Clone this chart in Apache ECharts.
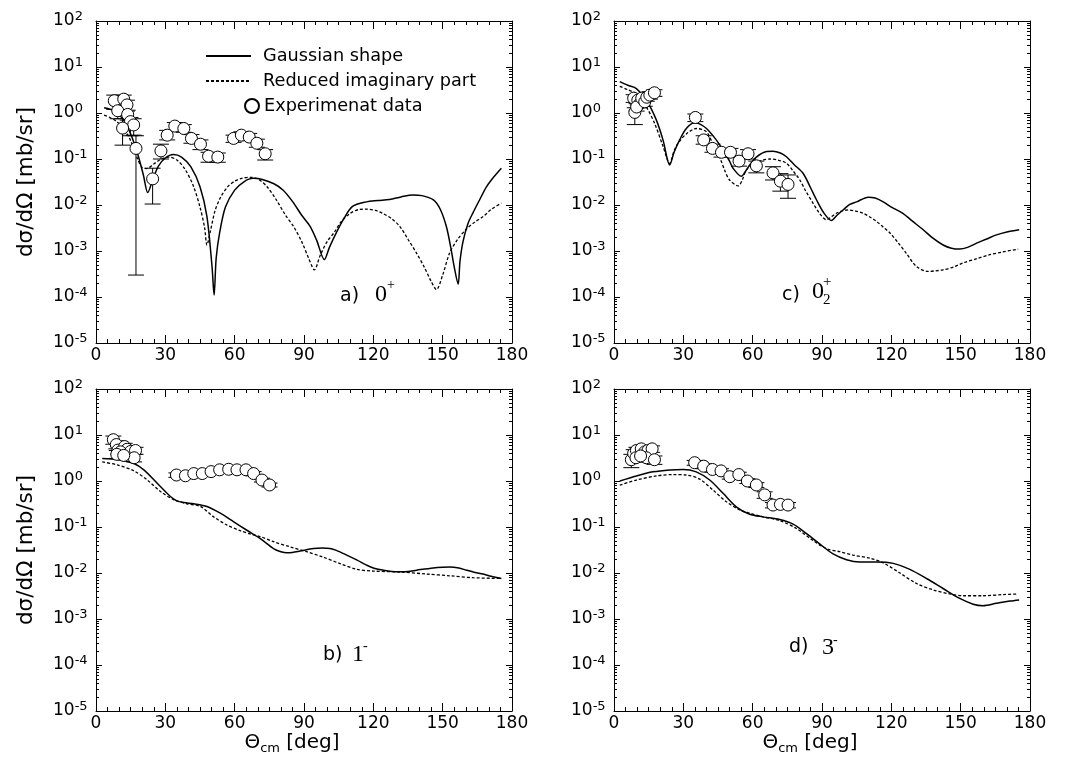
<!DOCTYPE html>
<html><head><meta charset="utf-8">
<script src="https://cdn.jsdelivr.net/npm/echarts@6.0.0/dist/echarts.min.js"></script>
<style>html,body{margin:0;padding:0;background:#fff}#c{width:1072px;height:773px}</style>
</head><body><div id="c"></div>
<script>
// ---------- data (angle deg, dσ/dΩ mb/sr) ----------
const gaussA = [[3.5,1.3],[8,1.1],[12,0.7],[15,0.35],[18,0.13],[20.5,0.045],[22.4,0.0186],[24.5,0.035],[27,0.07],[30,0.105],[33.5,0.125],[37,0.11],[41,0.068],[45,0.025],[48,0.0056],[50.2,0.00046],[51.1,0.00011],[52,0.0007],[53.5,0.0025],[56,0.009],[60,0.021],[64,0.032],[68,0.038],[72,0.036],[77,0.029],[81,0.021],[85,0.012],[89,0.006],[92.7,0.0034],[95.5,0.0017],[98.8,0.00065],[101,0.0012],[104,0.0025],[107,0.0048],[111,0.0093],[117,0.0117],[122,0.0125],[127,0.0132],[132,0.015],[137,0.0165],[141,0.016],[146,0.0129],[149,0.008],[151.6,0.0034],[153.5,0.0012],[155,0.00045],[156.7,0.00019],[157.5,0.0006],[158.8,0.0016],[161,0.004],[163,0.0066],[166,0.013],[169,0.025],[172,0.04],[175.4,0.063]];
const reducedA = [[3.5,0.9],[6,0.8],[9,0.65],[12,0.45],[15,0.25],[18,0.1],[20,0.065],[22,0.062],[25,0.078],[28,0.098],[31.5,0.11],[35,0.095],[38.5,0.06],[42,0.027],[45,0.009],[47,0.0032],[48,0.00135],[49.5,0.0027],[51.5,0.0075],[54,0.015],[57,0.025],[60,0.033],[63,0.038],[66.8,0.04],[70,0.037],[74,0.025],[78,0.013],[82,0.006],[85.5,0.0034],[89,0.0016],[92,0.0007],[94.5,0.00039],[97,0.0008],[100,0.0016],[103,0.0025],[106,0.0043],[110,0.0066],[114,0.008],[117,0.0081],[121,0.0076],[124,0.0066],[128,0.005],[131.5,0.0034],[135,0.0018],[138.7,0.0009],[142,0.00045],[145,0.00022],[147.3,0.000145],[150,0.0003],[153,0.0009],[156.5,0.0018],[160,0.0029],[164,0.0043],[167.5,0.0056],[171,0.008],[175.4,0.011]];
// [angle, value, errLow, errHigh]
const expA = [[7.9,1.85,1.2,2.45],[12.0,2.0,1.4,2.45],[13.4,1.5,1.1,1.9],[9.4,1.12,0.75,1.5],[13.7,0.93,0.7,1.15],[14.9,0.65,0.32,0.8],[16.3,0.55,0.33,0.75],[11.5,0.47,0.2,0.75],[17.3,0.17,0.0003,0.32],[24.5,0.037,0.0105,0.063],[28.1,0.15,0.1,0.21],[30.8,0.33,0.26,0.42],[34.1,0.52,0.42,0.62],[38.0,0.46,0.38,0.56],[41.3,0.28,0.22,0.34],[45.2,0.21,0.16,0.26],[48.7,0.115,0.085,0.14],[52.7,0.11,0.085,0.135],[59.5,0.28,0.23,0.33],[62.9,0.33,0.27,0.39],[66.3,0.3,0.25,0.36],[69.6,0.22,0.18,0.27],[73.2,0.13,0.095,0.16]];

const gaussC = [[2.5,4.8],[6,4.0],[9.7,3.4],[14,1.9],[18.3,0.71],[21.2,0.26],[24.1,0.074],[26,0.14],[28.4,0.26],[31.3,0.46],[34.9,0.61],[37,0.58],[40,0.46],[44,0.27],[47.2,0.155],[50,0.09],[51.5,0.063],[55.1,0.042],[57,0.055],[58.7,0.074],[61.6,0.11],[66,0.145],[68.8,0.148],[72,0.135],[74.6,0.112],[78,0.075],[81.8,0.049],[85,0.024],[87.6,0.013],[91,0.0065],[94.1,0.0046],[96.5,0.006],[99.1,0.0078],[102,0.0103],[105,0.0117],[110,0.0148],[113,0.0142],[116.5,0.0117],[120,0.009],[125,0.0066],[129,0.0045],[133.8,0.0029],[138,0.0019],[142.4,0.00135],[146,0.00115],[149.6,0.0011],[153,0.0012],[156.9,0.00148],[161,0.0018],[165.5,0.00224],[170,0.0026],[175.3,0.0029]];
const reducedC = [[2.5,3.8],[6,3.2],[9.7,2.6],[14,1.35],[17.6,0.59],[21.2,0.19],[24.1,0.08],[26,0.15],[27.7,0.22],[31.3,0.35],[35.6,0.46],[40,0.39],[43,0.2],[45.7,0.11],[48,0.055],[50,0.035],[53.7,0.026],[55.5,0.035],[57.3,0.058],[61.6,0.081],[64.5,0.095],[67.4,0.1],[71,0.095],[74.6,0.081],[77.5,0.055],[80.4,0.035],[83,0.02],[86.1,0.011],[89,0.0065],[91.9,0.0048],[94,0.0055],[96.2,0.0066],[98.5,0.0074],[101.3,0.0078],[104.5,0.0074],[107.8,0.0066],[110.7,0.0055],[113.6,0.0044],[116.5,0.0033],[119.3,0.0025],[123,0.0015],[126.5,0.00089],[130.9,0.00046],[135.9,0.00036],[139,0.00037],[142.4,0.00039],[147,0.00045],[151,0.00055],[157,0.00068],[162.6,0.00083],[168,0.00095],[174.9,0.0011]];
const expC = [[9.0,1.03,0.56,1.3],[8.5,2.1,1.7,2.5],[10.3,1.9,1.5,2.3],[11.2,1.6,1.3,1.9],[9.8,1.35,1.1,1.6],[12.0,2.1,1.7,2.5],[13.3,1.75,1.4,2.1],[14.2,2.2,1.8,2.6],[15.5,2.45,2.0,2.9],[17.5,2.75,2.3,3.2],[35.2,0.8,0.65,0.95],[38.8,0.26,0.21,0.32],[42.6,0.17,0.14,0.21],[46.5,0.14,0.11,0.17],[50.4,0.14,0.11,0.17],[54.1,0.09,0.07,0.115],[58.0,0.13,0.1,0.16],[61.6,0.071,0.05,0.09],[68.8,0.05,0.035,0.068],[72.0,0.033,0.02,0.048],[75.3,0.028,0.014,0.045]];

const gaussB = [[2.7,3.1],[9.2,2.95],[16.4,2.4],[20.7,1.74],[26.5,0.89],[32.2,0.46],[35,0.37],[38,0.34],[42.3,0.32],[48,0.28],[53.8,0.2],[59.6,0.13],[65.3,0.085],[71.1,0.056],[76.8,0.034],[80,0.029],[82.6,0.0275],[85,0.028],[88.3,0.03],[94.1,0.034],[98,0.035],[101.3,0.034],[104,0.031],[108.5,0.0245],[113,0.019],[117.1,0.0148],[120,0.0128],[124.3,0.0115],[128,0.0108],[131.5,0.0107],[135,0.0108],[138.7,0.0115],[145.9,0.0129],[150,0.0134],[153.1,0.0135],[157,0.0128],[160.3,0.0115],[164,0.0103],[167.5,0.0095],[171,0.0085],[175.4,0.0076]];
const reducedB = [[2.7,2.6],[9.2,2.24],[16.4,1.66],[22.2,1.05],[27.9,0.59],[33.7,0.39],[39.4,0.32],[45.2,0.28],[50.9,0.166],[56.7,0.11],[62.4,0.083],[67,0.07],[71.1,0.062],[76.8,0.048],[84,0.037],[91.2,0.029],[98.4,0.022],[105.6,0.016],[112.8,0.012],[120,0.011],[131.5,0.0105],[143,0.0095],[153.1,0.0087],[163.2,0.0079],[175.4,0.0076]];
const expB = [[7.5,7.9,6.3,9.5],[8.8,6.2,5.0,7.5],[9.5,4.7,3.8,5.6],[12.4,5.6,4.6,6.6],[13.5,4.9,4.0,5.8],[10.6,4.3,3.4,5.2],[15.0,4.4,3.6,5.2],[17.1,4.6,3.8,5.4],[9.0,3.8,3.1,4.6],[16.5,3.2,2.6,3.8],[12.0,3.6,3.0,4.3],[34.8,1.35,1.2,1.5],[38.7,1.3,1.15,1.45],[42.3,1.45,1.3,1.6],[46.0,1.45,1.3,1.6],[49.8,1.6,1.45,1.75],[53.5,1.75,1.6,1.9],[57.4,1.8,1.65,1.95],[61.0,1.75,1.6,1.9],[64.9,1.75,1.6,1.9],[68.2,1.45,1.3,1.6],[71.8,1.05,0.95,1.15],[75.1,0.82,0.74,0.9]];

const gaussD = [[2.5,1.0],[9.7,1.29],[16.9,1.58],[24.1,1.74],[29.9,1.78],[35.6,1.58],[41.4,1.05],[47.2,0.54],[52.9,0.275],[58.7,0.19],[64.5,0.166],[71.7,0.145],[77.5,0.115],[83.3,0.072],[89,0.043],[94.8,0.026],[100.6,0.0195],[106.3,0.0174],[113.5,0.0174],[120.8,0.0162],[128,0.012],[135.2,0.0076],[142.4,0.0046],[149.6,0.0028],[155.4,0.0021],[159.7,0.00195],[165.5,0.0022],[171.3,0.00245],[175.3,0.0026]];
const reducedD = [[2.5,0.81],[9.7,1.05],[18.3,1.29],[25.5,1.38],[31.3,1.35],[37.1,1.1],[42.9,0.63],[48.6,0.355],[54.4,0.234],[58.7,0.2],[64.5,0.166],[71.7,0.138],[78.9,0.093],[86.1,0.051],[91.9,0.034],[97.7,0.029],[103.5,0.0245],[110.7,0.021],[116.5,0.0166],[123.7,0.01],[130.9,0.0059],[138.1,0.0043],[145.3,0.0035],[151.1,0.0032],[159.7,0.0032],[168.4,0.0034],[174.9,0.0035]];
const expD = [[7.5,2.9,1.95,3.8],[8.5,4.0,3.2,4.8],[9.7,4.6,3.8,5.4],[11.8,5.0,4.2,5.8],[13.3,4.3,3.6,5.0],[14.7,4.6,3.8,5.4],[16.5,5.0,4.2,5.8],[9.5,3.2,2.6,3.8],[14.0,3.2,2.6,3.8],[17.5,2.9,2.3,3.5],[11.5,3.5,2.9,4.1],[34.9,2.5,2.2,2.8],[38.8,2.1,1.85,2.35],[42.6,1.78,1.55,2.0],[46.3,1.66,1.45,1.85],[50.1,1.24,1.1,1.4],[54.0,1.38,1.2,1.55],[57.7,1.0,0.88,1.12],[61.6,0.82,0.72,0.92],[65.2,0.5,0.42,0.58],[68.8,0.3,0.26,0.34],[72.0,0.31,0.27,0.35],[75.3,0.3,0.26,0.34]];

const seriesNames = ['Gaussian shape', 'Reduced imaginary part', 'Experimenat data'];
const xMin = 0, xMax = 180, xStep = 30;
const yMin = 1e-5, yMax = 100;
const yTitle = 'dσ/dΩ [mb/sr]';

// ---------- layout ----------
const SANS = 'DejaVu Sans, Liberation Sans, sans-serif';
const SERIF = 'Liberation Serif, Times New Roman, serif';
const panels = [
  {gauss: gaussA, reduced: reducedA, exp: expA, grid: {left: 96, top: 21, width: 416, height: 322}, yName: true, xName: false},
  {gauss: gaussC, reduced: reducedC, exp: expC, grid: {left: 614, top: 21, width: 416, height: 322}, yName: false, xName: false},
  {gauss: gaussB, reduced: reducedB, exp: expB, grid: {left: 96, top: 389, width: 416, height: 322}, yName: true, xName: true},
  {gauss: gaussD, reduced: reducedD, exp: expD, grid: {left: 614, top: 389, width: 416, height: 322}, yName: false, xName: true}
];

const black = {color: '#000', width: 1};
const grid = [], xAxis = [], yAxis = [], series = [];

function renderErr(params, api) {
  const x = api.value(0), lo = api.value(1), hi = api.value(2);
  const a = api.coord([x, lo]), b = api.coord([x, hi]);
  const hw = 8;
  const st = {stroke: '#000', lineWidth: 1};
  return {type: 'group', children: [
    {type: 'line', shape: {x1: a[0], y1: a[1], x2: b[0], y2: b[1]}, style: st},
    {type: 'line', shape: {x1: a[0] - hw, y1: a[1], x2: a[0] + hw, y2: a[1]}, style: st},
    {type: 'line', shape: {x1: b[0] - hw, y1: b[1], x2: b[0] + hw, y2: b[1]}, style: st}
  ]};
}

panels.forEach((p, i) => {
  grid.push(Object.assign({containLabel: false}, p.grid));
  const xBase = {
    type: 'value', gridIndex: i, min: xMin, max: xMax, interval: xStep,
    axisLine: {show: true, onZero: false, lineStyle: black},
    axisTick: {show: true, inside: true, length: 8, lineStyle: black},
    minorTick: {show: true, splitNumber: 6, length: 4, lineStyle: black},
    splitLine: {show: false}, minorSplitLine: {show: false}
  };
  xAxis.push(Object.assign({}, xBase, {
    position: 'bottom',
    axisLabel: {show: true, fontSize: 17, color: '#000', fontFamily: SANS, margin: 4},
    name: p.xName ? '{a|Θ}{s|cm}{a| [deg]}' : '',
    nameLocation: 'middle', nameGap: 9,
    nameTextStyle: {padding: [0, 24, 0, 0], rich: {
      a: {fontSize: 20, fontFamily: SANS, color: '#000', lineHeight: 24},
      s: {fontSize: 13, fontFamily: SANS, color: '#000', lineHeight: 13, verticalAlign: 'bottom'}
    }}
  }));
  xAxis.push(Object.assign({}, xBase, {position: 'top', axisLabel: {show: false}}));
  const yBase = {
    type: 'log', logBase: 10, gridIndex: i, min: yMin, max: yMax, interval: 1,
    axisLine: {show: true, onZero: false, lineStyle: black},
    axisTick: {show: true, inside: true, length: 6, lineStyle: black},
    minorTick: {show: true, splitNumber: 9, length: 3, lineStyle: black},
    splitLine: {show: false}, minorSplitLine: {show: false}
  };
  yAxis.push(Object.assign({}, yBase, {
    position: 'left',
    axisLabel: {show: true, margin: 43, align: 'left', color: '#000',
      formatter: v => '{b|10}{s|' + Math.round(Math.log10(v)) + '}',
      rich: {
        b: {fontSize: 17, fontFamily: SANS, color: '#000', lineHeight: 22},
        s: {fontSize: 13, fontFamily: SANS, color: '#000', lineHeight: 13, verticalAlign: 'top'}
      }},
    name: p.yName ? yTitle : '', nameLocation: 'middle', nameRotate: 90, nameGap: 59,
    nameTextStyle: {fontSize: 21.5, fontFamily: SANS, color: '#000'}
  }));
  yAxis.push(Object.assign({}, yBase, {position: 'right', axisLabel: {show: false}}));

  series.push({
    name: seriesNames[0], type: 'line', xAxisIndex: 2 * i, yAxisIndex: 2 * i,
    data: p.gauss, symbol: 'none', smooth: 0.3, lineStyle: {color: '#000', width: 1.5, type: 'solid'},
    itemStyle: {color: '#000'}, z: 2, silent: true
  });
  series.push({
    name: seriesNames[1], type: 'line', xAxisIndex: 2 * i, yAxisIndex: 2 * i,
    data: p.reduced, symbol: 'none', smooth: 0.3, lineStyle: {color: '#000', width: 1.3, type: [3, 2]},
    itemStyle: {color: '#000'}, z: 2, silent: true
  });
  series.push({
    name: 'err', type: 'custom', xAxisIndex: 2 * i, yAxisIndex: 2 * i,
    data: p.exp.map(d => [d[0], d[2], d[3]]), encode: {x: 0, y: [1, 2]},
    renderItem: renderErr, z: 3, silent: true
  });
  series.push({
    name: seriesNames[2], type: 'scatter', xAxisIndex: 2 * i, yAxisIndex: 2 * i,
    data: p.exp.map(d => [d[0], d[1]]), symbol: 'circle', symbolSize: 12,
    itemStyle: {color: '#fff', borderColor: '#000', borderWidth: 1, opacity: 1}, z: 4, silent: true
  });
});

function txt(x, y, text, font, size) {
  return {type: 'text', x: x, y: y, style: {text: text, fontFamily: font, fontSize: size, fill: '#000', align: 'left', verticalAlign: 'middle'}};
}
const graphic = [
  txt(340, 296, 'a)', SANS, 19), txt(375, 295, '0', SERIF, 24), txt(387, 285, '+', SERIF, 14),
  txt(782, 295, 'c)', SANS, 19), txt(812, 292, '0', SERIF, 24), txt(823, 282, '+', SERIF, 15), txt(823, 300, '2', SERIF, 15),
  txt(323, 655, 'b)', SANS, 19), txt(352, 655, '1', SERIF, 24), txt(363, 646, '-', SERIF, 14),
  txt(789, 647, 'd)', SANS, 19), txt(822, 648, '3', SERIF, 24), txt(833, 640, '-', SERIF, 14)
];

const option = {
  backgroundColor: '#fff',
  animation: false,
  grid: grid, xAxis: xAxis, yAxis: yAxis, series: series, graphic: graphic,
  legend: [
    {data: [seriesNames[0], seriesNames[1]], orient: 'vertical', left: 205, top: 47, padding: 0, itemWidth: 45, itemHeight: 14, itemGap: 7,
     selectedMode: false, itemStyle: {opacity: 0},
     textStyle: {fontSize: 17.7, fontFamily: SANS, color: '#000', padding: [0, 0, 0, 7]}},
    {data: [seriesNames[2]], orient: 'vertical', left: 244, top: 97, padding: 0, itemWidth: 14, itemHeight: 14,
     selectedMode: false, textStyle: {fontSize: 17.7, fontFamily: SANS, color: '#000'}}
  ]
};
const chart = echarts.init(document.getElementById('c'), null, {renderer: 'canvas'});
chart.setOption(option);
</script>
</body></html>
